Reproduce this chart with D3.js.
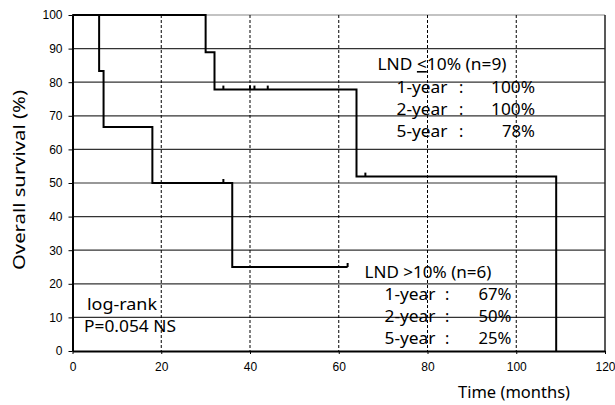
<!DOCTYPE html>
<html>
<head>
<meta charset="utf-8">
<script src="https://cdn.jsdelivr.net/npm/d3@7"></script>
<style>
  body { margin: 0; background: #fff; }
  svg { display: block; }
</style>
</head>
<body>
<div id="chart"></div>
<script>
// Kaplan-Meier steps (months, survival %)
var lowTimes  = [0, 30, 32, 64, 109];
var lowSurv   = [100, 88.9, 77.8, 51.9, 0];
var lowCensor = [34, 40, 41, 44, 66];

var highTimes  = [0, 6, 7, 18, 36, 62];
var highSurv   = [100, 83.3, 66.7, 50, 25, 25];
var highCensor = [34, 62];

var xTicks = [0, 20, 40, 60, 80, 100, 120];
var yTicks = [0, 10, 20, 30, 40, 50, 60, 70, 80, 90, 100];

var lowRows  = [["1-year", "100%"], ["2-year", "100%"], ["5-year", "78%"]];
var highRows = [["1-year", "67%"], ["2-year", "50%"], ["5-year", "25%"]];

var narrow = "'Liberation Sans Narrow', 'Noto Sans', sans-serif";

var svg = d3.select("#chart")
  .append("svg")
    .attr("width", 615)
    .attr("height", 405);

var x = d3.scaleLinear().domain([0, 120]).range([72.5, 605]);
var y = d3.scaleLinear().domain([0, 100]).range([351, 15]);

// horizontal grid
svg.append("g")
  .selectAll("line")
  .data(yTicks.filter(d => d > 0))
  .enter().append("line")
    .attr("x1", x(0)).attr("x2", x(120))
    .attr("y1", d => y(d)).attr("y2", d => y(d))
    .attr("stroke", d => d == 100 ? "#888" : "#333")
    .attr("stroke-width", 1.2);

// vertical dashed grid
svg.append("g")
  .selectAll("line")
  .data(xTicks.filter(d => d > 0 && d < 120))
  .enter().append("line")
    .attr("x1", d => x(d)).attr("x2", d => x(d))
    .attr("y1", y(100)).attr("y2", y(0))
    .attr("stroke", "#000")
    .attr("stroke-width", 1)
    .attr("stroke-dasharray", "3,2");

// right border
svg.append("line")
  .attr("x1", x(120)).attr("x2", x(120))
  .attr("y1", y(100)).attr("y2", y(0))
  .attr("stroke", "#222").attr("stroke-width", 1.5);

// axes
var yAxis = svg.append("g")
  .attr("transform", "translate(" + x(0) + ",0)")
  .call(d3.axisLeft(y).tickValues(yTicks).tickSize(4).tickSizeOuter(0).tickPadding(6));
var xAxis = svg.append("g")
  .attr("transform", "translate(0," + y(0) + ")")
  .call(d3.axisBottom(x).tickValues(xTicks).tickSize(3).tickSizeOuter(0).tickPadding(8));

[yAxis, xAxis].forEach(function(a) {
  a.select(".domain").attr("stroke", "#000").attr("stroke-width", 2);
  a.selectAll(".tick line").attr("stroke", "#000");
  a.selectAll(".tick text")
    .style("font-family", "'Liberation Sans', Arial, sans-serif")
    .style("font-size", "12px")
    .attr("fill", "#000");
});

// survival curves
var step = d3.line()
  .x(d => x(d[0]))
  .y(d => y(d[1]))
  .curve(d3.curveStepAfter);

function survAt(times, surv, t) {
  var i = d3.bisectRight(times, t) - 1;
  return surv[i];
}

function drawCurve(times, surv, censor) {
  svg.append("path")
    .datum(d3.zip(times, surv))
    .attr("fill", "none")
    .attr("stroke", "#000")
    .attr("stroke-width", 2)
    .attr("d", step);

  svg.append("g")
    .selectAll("line")
    .data(censor)
    .enter().append("line")
      .attr("x1", d => x(d)).attr("x2", d => x(d))
      .attr("y1", d => y(survAt(times, surv, d)))
      .attr("y2", d => y(survAt(times, surv, d)) - 4)
      .attr("stroke", "#000")
      .attr("stroke-width", 2);
}

drawCurve(lowTimes, lowSurv, lowCensor);
drawCurve(highTimes, highSurv, highCensor);

// text blocks
function label(tx, ty, txt, len, anchor) {
  var t = svg.append("text")
    .attr("x", tx)
    .attr("y", ty)
    .attr("text-anchor", anchor || "start")
    .style("font-family", narrow)
    .style("font-size", "16px")
    .attr("fill", "#000")
    .text(txt);
  if (len) t.attr("textLength", len).attr("lengthAdjust", "spacingAndGlyphs");
  return t;
}

function header(tx, ty, sign, n, len) {
  var t = svg.append("text")
    .attr("x", tx)
    .attr("y", ty)
    .style("font-family", narrow)
    .style("font-size", "16px")
    .attr("fill", "#000")
    .attr("textLength", len)
    .attr("lengthAdjust", "spacingAndGlyphs");
  t.append("tspan").text("LND ");
  var s = t.append("tspan").text(sign);
  if (sign == "<") s.style("text-decoration", "underline");
  t.append("tspan").text("10% (n=" + n + ")");
}

header(377.5, 70, "<", 9, 129);
lowRows.forEach(function(r, i) {
  var by = 92.5 + i * 22;
  label(396.5, by, r[0], 51);
  label(459, by, ":");
  label(535, by, r[1], r[1].length * 11, "end");
});

header(364.5, 277.5, ">", 6, 127);
highRows.forEach(function(r, i) {
  var by = 300 + i * 22;
  label(384.5, by, r[0], 51);
  label(445, by, ":");
  label(511.5, by, r[1], r[1].length * 11, "end");
});

label(87, 310, "log-rank", 70);
label(84, 331.5, "P=0.054 NS", 92);

// axis titles
svg.append("text")
  .attr("transform", "translate(25,180) rotate(-90)")
  .attr("text-anchor", "middle")
  .style("font-family", narrow)
  .style("font-size", "16px")
  .attr("textLength", 180)
  .attr("lengthAdjust", "spacingAndGlyphs")
  .text("Overall survival (%)");

label(458, 398, "Time (months)", 112);
</script>
</body>
</html>
